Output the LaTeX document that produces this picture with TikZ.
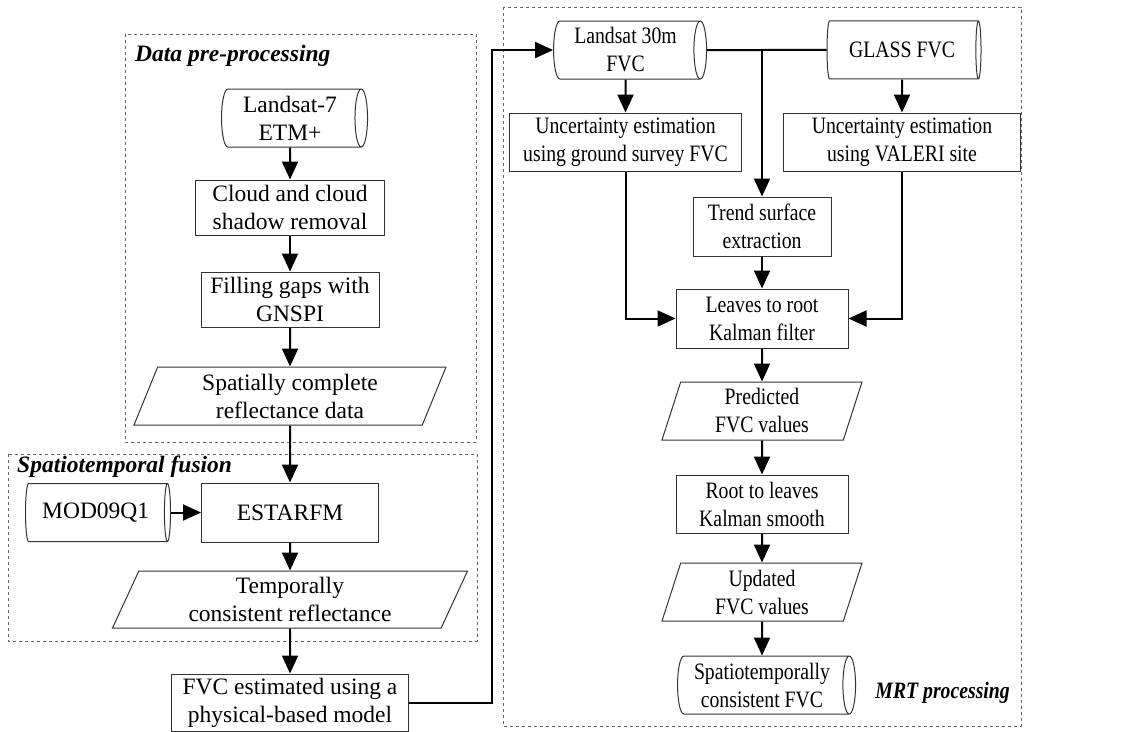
\documentclass[tikz,border=0pt]{standalone}
\usepackage{fontspec}
\setmainfont{Liberation Serif}
\newfontfamily\narrowfont[FakeStretch=0.84]{Liberation Serif}
\usetikzlibrary{positioning, arrows.meta, shapes.geometric, calc}

\begin{document}
\begin{tikzpicture}[x=1pt, y=-1pt,
  font=\fontsize{23.5}{28}\selectfont,
  proc/.style={draw=black!80, line width=1pt, rectangle, minimum height=57pt, align=center, inner sep=2pt},
  store/.style={draw=black!80, line width=1pt, cylinder, shape border rotate=0, shape aspect=0.26, minimum width=58pt, align=center, inner sep=2pt},
  data/.style={draw=black!80, line width=1pt, trapezium, trapezium stretches body, minimum height=58pt, align=center, inner sep=2pt},
  frame/.style={draw=black!60, dashed, line width=0.8pt},
  title/.style={font=\fontsize{23.5}{28}\selectfont\bfseries\itshape, inner sep=0pt},
  arrow/.style={-{Triangle[length=18pt,width=16pt]}, line width=2pt},
  link/.style={line width=2pt}
]
  \useasboundingbox (0,0) rectangle (1126,731);

  % dashed frames
  \draw[frame] (125,34) rectangle (476,442);
  \draw[frame] (8,454) rectangle (477,641);
  \draw[frame] (503,7) rectangle (1021,726);
  \node[title, anchor=west] (pretitle) at (135,56) {Data pre-processing};
  \node[title, anchor=west] (fustitle) at (17,467) {Spatiotemporal fusion};
  \node[title, anchor=east, font=\fontsize{23.5}{28}\narrowfont\bfseries\itshape] (mrttitle) at (1010,693) {MRT processing};

  % left column
  \node[store, minimum height=146pt] (ls7) at (290,118) {Landsat-7\\ETM+};
  \node[proc, minimum width=189pt, minimum height=55pt, below=32pt of ls7] (cloud) {Cloud and cloud\\shadow removal};
  \node[proc, minimum width=178pt, minimum height=55pt, below=36pt of cloud] (gaps) {Filling gaps with\\GNSPI};
  \node[data, trapezium left angle=64, trapezium right angle=116, minimum width=312pt, below=39pt of gaps] (spat) {Spatially complete\\reflectance data};
  \node[proc, minimum width=177pt, minimum height=59pt, below=57pt of spat] (estarfm) {ESTARFM};
  \node[store, minimum height=145pt, left=30pt of estarfm] (mod) {MOD09Q1};
  \node[data, trapezium left angle=61.5, trapezium right angle=118.5, minimum width=355pt, minimum height=57pt, below=28pt of estarfm] (temp) {Temporally\\consistent reflectance};
  \node[proc, minimum width=237pt, below=45pt of temp] (fvcest) {FVC estimated using a\\physical-based model};

  % MRT column
  \begin{scope}[font=\fontsize{23.5}{28}\narrowfont]
  \node[store, minimum height=153pt] (l30) at (625.5,50) {Landsat 30m\\FVC};
  \node[proc, minimum width=232pt, minimum height=58pt, below=33pt of l30] (uncg) {Uncertainty estimation\\using ground survey FVC};
  \node[proc, minimum width=237pt, minimum height=58pt, right=41pt of uncg] (uncv) {Uncertainty estimation\\using VALERI site};
  \node[store, minimum height=154pt, above=33pt of uncv] (glass) {GLASS FVC};
  \node[proc, minimum width=138pt, minimum height=59pt] (trend) at (762,226.5) {Trend surface\\extraction};
  \node[proc, minimum width=172pt, minimum height=59pt, below=32pt of trend] (kf) {Leaves to root\\Kalman filter};
  \node[data, trapezium left angle=69, trapezium right angle=111, minimum width=200pt, below=33pt of kf] (pred) {Predicted\\FVC values};
  \node[proc, minimum width=172pt, minimum height=58pt, below=34pt of pred] (ks) {Root to leaves\\Kalman smooth};
  \node[data, trapezium left angle=69, trapezium right angle=111, minimum width=200pt, below=29pt of ks] (upd) {Updated\\FVC values};
  \node[store, minimum height=178pt, below=34pt of upd] (stc) {Spatiotemporally\\consistent FVC};
  \end{scope}

  % connectors
  \draw[arrow] (ls7) -- (cloud);
  \draw[arrow] (cloud) -- (gaps);
  \draw[arrow] (gaps) -- (spat);
  \draw[arrow] (spat) -- (estarfm);
  \draw[arrow] (mod) -- (estarfm);
  \draw[arrow] (estarfm) -- (temp);
  \draw[arrow] (temp) -- (fvcest);
  \draw[arrow] (fvcest.east) -- ++(83,0) |- (l30.west);
  \draw[link] (l30.east) -- (glass.west);
  \draw[arrow] (l30.east -| trend.north) -- (trend.north);
  \draw[arrow] (l30) -- (uncg);
  \draw[arrow] (glass) -- (uncv);
  \draw[arrow] (uncg.south) |- (kf.west);
  \draw[arrow] (uncv.south) |- (kf.east);
  \draw[arrow] (trend) -- (kf);
  \draw[arrow] (kf) -- (pred);
  \draw[arrow] (pred) -- (ks);
  \draw[arrow] (ks) -- (upd);
  \draw[arrow] (upd) -- (stc);
\end{tikzpicture}
\end{document}
